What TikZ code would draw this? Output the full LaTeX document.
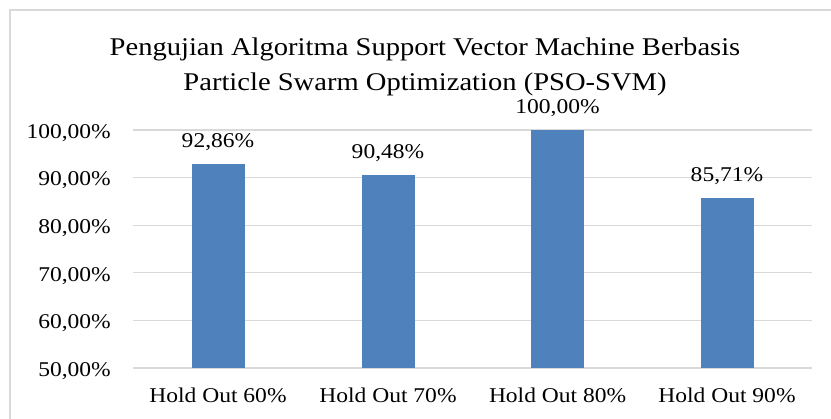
\documentclass[tikz,border=0pt]{standalone}
\usepackage{fontspec}
\setmainfont{Liberation Serif}[FakeStretch=1.12]
\usetikzlibrary{positioning}
\definecolor{barBlue}{HTML}{4F81BD}
\definecolor{gridGray}{HTML}{D9D9D9}
\definecolor{chartInk}{HTML}{000000}

\begin{document}
\begin{tikzpicture}[x=1pt,y=-1pt,
  ticklbl/.style={anchor=base east,inner sep=0pt,font=\fontsize{21}{25}\selectfont,chartInk},
  vallbl/.style={anchor=base,inner sep=0pt,font=\fontsize{21}{25}\selectfont,chartInk},
  catlbl/.style={anchor=base,inner sep=0pt,font=\fontsize{21}{25}\selectfont,chartInk},
  titlelbl/.style={anchor=base,inner sep=0pt,font=\fontsize{25.5}{30}\selectfont,chartInk}]
\useasboundingbox (0,0) rectangle (831,419);
\fill[white] (0,0) rectangle (831,419);
% chart frame
\draw[gridGray,line width=1.2pt] (10,419) -- (10,10) -- (831,10);
% title
\node[titlelbl] (title1) at (425,56) {Pengujian Algoritma Support Vector Machine Berbasis};
\node[titlelbl] (title2) at (425,90.5) {Particle Swarm Optimization (PSO-SVM)};
% grid and axis labels
\foreach \v in {50,60,...,100}{
 \pgfmathsetmacro\py{368-(\v-50)*4.76}
 \draw[gridGray,line width=1.3pt] (133,\py) -- (812,\py);
 \node[ticklbl] (tick\v) at (111,\py+8.4) {\v,00\%};
}
% bars
\foreach \i/\x/\v/\txt/\cat in {
 1/218/92.86/{92,86\%}/{Hold Out 60\%},
 2/388/90.48/{90,48\%}/{Hold Out 70\%},
 3/557.6/100/{100,00\%}/{Hold Out 80\%},
 4/727/85.71/{85,71\%}/{Hold Out 90\%}}{
 \pgfmathsetmacro\top{368-(\v-50)*4.76}
 \fill[barBlue] (\x-26.5,368) rectangle (\x+26.5,\top);
 \node[vallbl] (val\i) at (\x,\top-16.6) {\txt};
 \node[catlbl] (cat\i) at (\x,403) {\cat};
}
\end{tikzpicture}
\end{document}
